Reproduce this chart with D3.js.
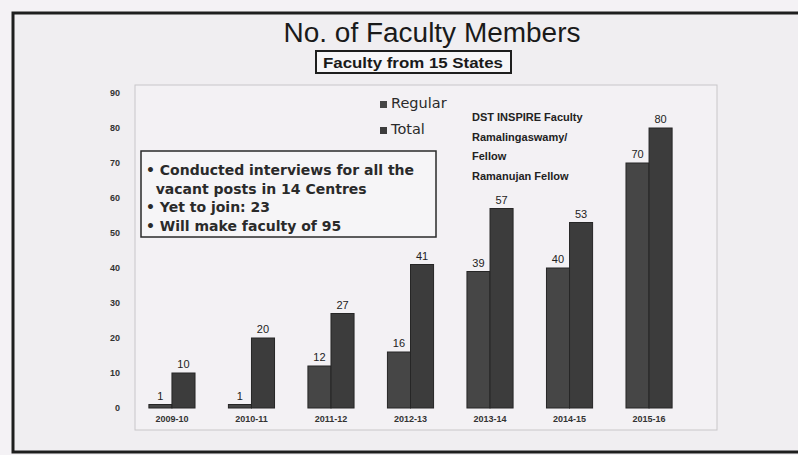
<!DOCTYPE html>
<html>
<head>
<meta charset="utf-8">
<script src="https://cdn.jsdelivr.net/npm/d3@7"></script>
<style>
  body { margin: 0; background: #f4f2f5; }
  text { font-family: 'Liberation Sans', Arial, sans-serif; }
</style>
</head>
<body>
<svg id="chart" width="798" height="455"></svg>
<script>
// data
const years = ['2009-10', '2010-11', '2011-12', '2012-13', '2013-14', '2014-15', '2015-16']
const regular = [1, 1, 12, 16, 39, 40, 70]
const total = [10, 20, 27, 41, 57, 53, 80]
const seriesNames = ['Regular', 'Total']
const yTicks = [0, 10, 20, 30, 40, 50, 60, 70, 80, 90]
const notes = ['• Conducted interviews for all the', '  vacant posts in 14 Centres', '• Yet to join: 23', '• Will make faculty of 95']
const fellowships = ['DST INSPIRE Faculty', 'Ramalingaswamy/', 'Fellow', 'Ramanujan Fellow']

const rows = years.map((y, i) => ({ year: y, Regular: regular[i], Total: total[i] }))

const svg = d3.select('#chart')

// outer slide frame
svg.append('rect')
  .attr('x', 13).attr('y', 13)
  .attr('width', 800).attr('height', 439)
  .attr('fill', '#f0eef1')
  .attr('stroke', '#1e1e1e')
  .attr('stroke-width', 3)

// plot area
svg.append('rect')
  .attr('x', 135).attr('y', 85)
  .attr('width', 582).attr('height', 345)
  .attr('fill', '#f3f1f4')
  .attr('stroke', '#c8c6c9')
  .attr('stroke-width', 1)

svg.append('text')
  .attr('x', 432).attr('y', 42)
  .attr('text-anchor', 'middle')
  .attr('font-size', 27)
  .attr('fill', '#1a1a1a')
  .attr('textLength', 297)
  .attr('lengthAdjust', 'spacingAndGlyphs')
  .text('No. of Faculty Members')

svg.append('rect')
  .attr('x', 316).attr('y', 51)
  .attr('width', 195).attr('height', 22)
  .attr('fill', '#f7f6f8')
  .attr('stroke', '#1e1e1e')
  .attr('stroke-width', 2)
svg.append('text')
  .attr('x', 413).attr('y', 67.5)
  .attr('text-anchor', 'middle')
  .attr('font-size', 15)
  .attr('font-weight', 'bold')
  .attr('fill', '#1a1a1a')
  .attr('textLength', 180)
  .attr('lengthAdjust', 'spacingAndGlyphs')
  .text('Faculty from 15 States')

const x = d3.scaleBand()
  .domain(years)
  .range([115.5, 705.5])
  .padding(0.42)
const xs = d3.scaleBand()
  .domain(seriesNames)
  .range([0, x.bandwidth()])
const y = d3.scaleLinear()
  .domain([0, 90])
  .range([408, 93])

// y axis labels only, no line
const yAxis = d3.axisLeft(y).tickValues(yTicks).tickSize(0).tickPadding(0)
const gy = svg.append('g')
  .attr('transform', 'translate(120,0)')
  .call(yAxis)
gy.select('.domain').remove()
gy.selectAll('text')
  .attr('font-size', 9)
  .attr('font-weight', 'bold')
  .attr('fill', '#333')

const xAxis = d3.axisBottom(x).tickSize(0).tickPadding(0)
const gx = svg.append('g')
  .attr('transform', 'translate(0,416)')
  .call(xAxis)
gx.select('.domain').remove()
gx.selectAll('text')
  .attr('font-size', 9)
  .attr('font-weight', 'bold')
  .attr('fill', '#333')

const colors = { Regular: '#464646', Total: '#3c3c3c' }

const groups = svg.append('g')
  .selectAll('g')
  .data(rows)
  .join('g')
  .attr('transform', d => `translate(${x(d.year)},0)`)

groups.selectAll('rect')
  .data(d => seriesNames.map(k => ({ key: k, value: d[k] })))
  .join('rect')
  .attr('x', d => xs(d.key))
  .attr('y', d => y(d.value))
  .attr('width', xs.bandwidth())
  .attr('height', d => y(0) - y(d.value))
  .attr('fill', d => colors[d.key])
  .attr('stroke', '#262626')
  .attr('stroke-width', 1)

groups.selectAll('text.val')
  .data(d => seriesNames.map(k => ({ key: k, value: d[k] })))
  .join('text')
  .attr('class', 'val')
  .attr('x', d => xs(d.key) + xs.bandwidth() / 2)
  .attr('y', d => y(d.value) - 5)
  .attr('text-anchor', 'middle')
  .attr('font-size', 11)
  .attr('fill', '#222')
  .text(d => d.value)

// legend
const legend = svg.append('g')
  .selectAll('g')
  .data(seriesNames)
  .join('g')
  .attr('transform', (d, i) => `translate(380,${108 + i * 26})`)
legend.append('rect')
  .attr('x', 0).attr('y', -7)
  .attr('width', 7).attr('height', 7)
  .attr('fill', d => colors[d])
legend.append('text')
  .attr('x', 11).attr('y', 0)
  .style('font-family', "'DejaVu Sans', sans-serif")
  .attr('font-size', 14.5)
  .attr('fill', '#2a2a2a')
  .text(d => d)

// fellowship list
svg.append('g')
  .selectAll('text')
  .data(fellowships)
  .join('text')
  .attr('x', 472)
  .attr('y', (d, i) => 121 + i * 19.5)
  .attr('font-size', 11)
  .attr('font-weight', 'bold')
  .attr('fill', '#222')
  .text(d => d)

// notes box
svg.append('rect')
  .attr('x', 141).attr('y', 151)
  .attr('width', 295).attr('height', 86)
  .attr('fill', '#f6f5f7')
  .attr('stroke', '#2a2a2a')
  .attr('stroke-width', 1.5)
svg.append('g')
  .selectAll('text')
  .data(notes)
  .join('text')
  .attr('x', 146)
  .attr('y', (d, i) => 175 + i * 18.5)
  .style('font-family', "'DejaVu Sans', sans-serif")
  .attr('font-size', 14)
  .attr('font-weight', 'bold')
  .attr('fill', '#2a2a2a')
  .style('white-space', 'pre')
  .text(d => d)
</script>
</body>
</html>
